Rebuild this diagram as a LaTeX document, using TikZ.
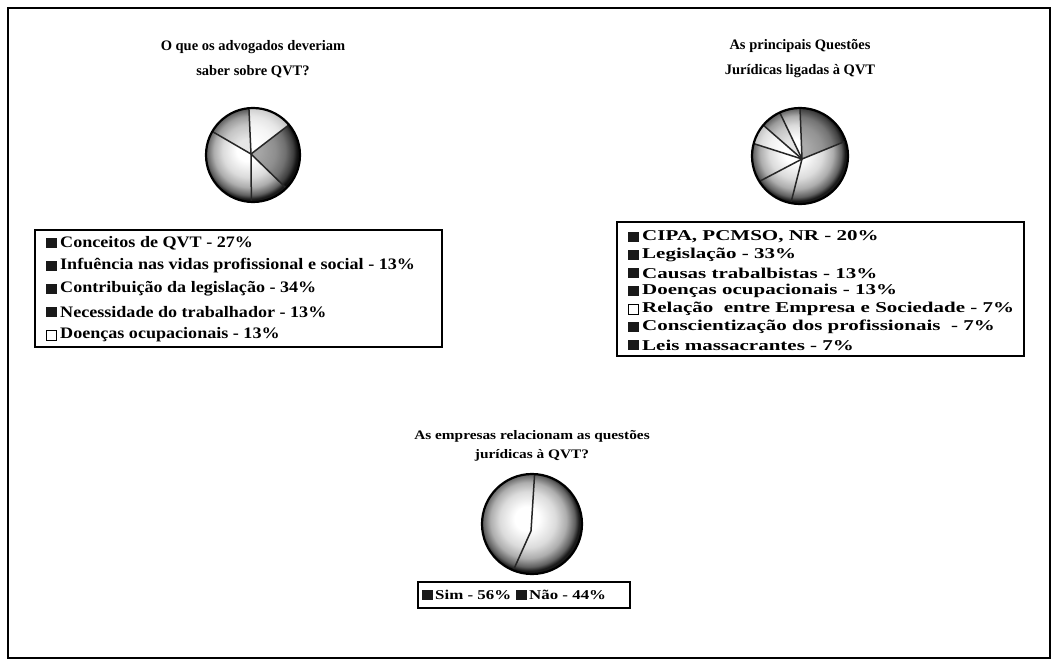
\documentclass[tikz,border=0pt]{standalone}
\usepackage{fontspec}
\setmainfont{Liberation Serif}
\newfontfamily\legonefont[FakeStretch=1.13]{Liberation Serif}
\newfontfamily\legtwofont[FakeStretch=1.4]{Liberation Serif}
\newfontfamily\legthreefont[FakeStretch=1.25]{Liberation Serif}
\newfontfamily\ttlthreefont[FakeStretch=1.18]{Liberation Serif}
\begin{document}
% soft ball-like shading used for every pie (path box = central 50bp)
\pgfdeclareradialshading{pieball}{\pgfpoint{-3bp}{3bp}}{color(0bp)=(white); color(6bp)=(white); color(14bp)=(black!14); color(19bp)=(black!32); color(23bp)=(black!62); color(25bp)=(black!90); color(50bp)=(black!90)}
\begin{tikzpicture}[x=1pt,y=-1pt]
\tikzset{
  ttl/.style={font=\bfseries\fontsize{14.5}{25}\selectfont, align=center, inner sep=0},
  ttlsmall/.style={font=\ttlthreefont\bfseries\fontsize{13}{19}\selectfont, align=center, inner sep=0},
  legframe/.style={draw=black, line width=1.3pt},
  legtxtone/.style={font=\legonefont\bfseries\fontsize{16}{18}\selectfont, anchor=west, inner sep=0},
  legtxttwo/.style={font=\legtwofont\bfseries\fontsize{15}{17}\selectfont, anchor=west, inner sep=0},
  legtxtthree/.style={font=\legthreefont\bfseries\fontsize{13.5}{15}\selectfont, anchor=west, inner sep=0},
  mk/.style={fill=black!90, minimum size=10.5pt, inner sep=0, anchor=west},
  mkw/.style={draw=black, fill=white, line width=0.9pt, minimum size=10pt, inner sep=0, anchor=west},
  rim/.style={line width=2.2pt, draw=black},
  cut/.style={line width=1.5pt, draw=black!85},
}
\useasboundingbox (0,0) rectangle (1059,666);
\fill[white] (0,0) rectangle (1059,666);
% outer frame
\draw[line width=1.3pt] (8,8) rectangle (1050,658);

% ---------- chart 1 ----------
\node[ttl] (t1) at (253,59) {O que os advogados deveriam\\saber sobre QVT?};
\begin{scope}[shift={(253,155)}, yscale=-1]
  \coordinate (c1) at (-2,1);
  \shade[shading=pieball] (0,0) circle (47);
  \fill[black, opacity=.35] (c1) -- (-45:47) arc[start angle=-45, end angle=40, radius=47] -- cycle;
  \fill[white, opacity=.7] (c1) -- (40:47) arc[start angle=40, end angle=95, radius=47] -- cycle;
  \fill[black, opacity=.1] (c1) -- (95:47) arc[start angle=95, end angle=150, radius=47] -- cycle;
  \foreach \a in {40,95,150,268,315} \draw[cut] (c1) -- (\a:47);
  \draw[rim] (0,0) circle (47);
\end{scope}
\draw[legframe] (35,230) rectangle (442,347);
\node[mk]  (m11) at (46,243) {};
\node[legtxtone] (l11) at (60,243) {Conceitos de QVT - 27\%};
\node[mk]  (m12) at (46,266) {};
\node[legtxtone] (l12) at (60,266) {Infuência nas vidas profissional e social - 13\%};
\node[mk]  (m13) at (46,289) {};
\node[legtxtone] (l13) at (60,289) {Contribuição da legislação - 34\%};
\node[mk]  (m14) at (46,312) {};
\node[legtxtone] (l14) at (60,312) {Necessidade do trabalhador - 13\%};
\node[mkw] (m15) at (46,335) {};
\node[legtxtone] (l15) at (60,335) {Doenças ocupacionais - 13\%};

% ---------- chart 2 ----------
\node[ttl] (t2) at (800,59) {As principais Questões\\Jurídicas ligadas à QVT};
\begin{scope}[shift={(800,156)}, yscale=-1]
  \coordinate (c2) at (2,-3);
  \shade[shading=pieball] (0,0) circle (48);
  \fill[black, opacity=.33] (c2) -- (18:48) arc[start angle=18, end angle=90, radius=48] -- cycle;
  \fill[white, opacity=.6] (c2) -- (140:48) arc[start angle=140, end angle=165, radius=48] -- cycle;
  \fill[black, opacity=.1] (c2) -- (115:48) arc[start angle=115, end angle=140, radius=48] -- cycle;
  \foreach \a in {18,90,115,140,165,212,259} \draw[cut] (c2) -- (\a:48);
  \draw[rim] (0,0) circle (48);
\end{scope}
\draw[legframe] (617,222) rectangle (1024,356);
\node[mk]  (m21) at (628,237) {};
\node[legtxttwo] (l21) at (642,237) {CIPA, PCMSO, NR - 20\%};
\node[mk]  (m22) at (628,255) {};
\node[legtxttwo] (l22) at (642,255) {Legislação - 33\%};
\node[mk]  (m23) at (628,273) {};
\node[legtxttwo] (l23) at (642,273) {Causas trabalbistas - 13\%};
\node[mk]  (m24) at (628,291) {};
\node[legtxttwo] (l24) at (642,291) {Doenças ocupacionais - 13\%};
\node[mkw] (m25) at (628,309) {};
\node[legtxttwo] (l25) at (642,309) {Relação\ \ entre Empresa e Sociedade - 7\%};
\node[mk]  (m26) at (628,327) {};
\node[legtxttwo] (l26) at (642,327) {Conscientização dos profissionais\ \ - 7\%};
\node[mk]  (m27) at (628,345) {};
\node[legtxttwo] (l27) at (642,345) {Leis massacrantes - 7\%};

% ---------- chart 3 ----------
\node[ttlsmall] (t3) at (532,446) {As empresas relacionam as questões\\jurídicas à QVT?};
\begin{scope}[shift={(532,524)}, yscale=-1]
  \coordinate (c3) at (-1,-7);
  \shade[shading=pieball] (0,0) circle (50);
  \draw[cut] (87:50) -- (c3) -- (248:50);
  \draw[rim] (0,0) circle (50);
\end{scope}
\draw[legframe] (418,582) rectangle (630,608);
\node[mk]  (m31) at (422,595) {};
\node[legtxtthree] (l31) at (435,595) {Sim - 56\%};
\node[mk]  (m32) at (516,595) {};
\node[legtxtthree] (l32) at (529,595) {Não - 44\%};
\end{tikzpicture}
\end{document}
